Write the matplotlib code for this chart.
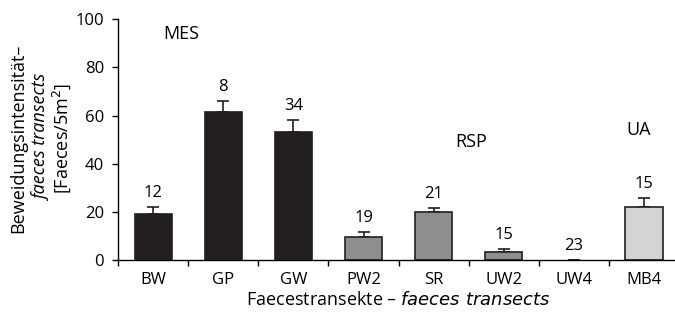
import matplotlib.pyplot as plt

plt.rcParams['font.family'] = 'Open Sans'

# data
categories = ['BW', 'GP', 'GW', 'PW2', 'SR', 'UW2', 'UW4', 'MB4']
means = [19.1, 61.3, 53.3, 9.7, 20.1, 3.5, 0.0, 22.2]
errors = [3.0, 4.7, 4.9, 2.1, 1.5, 1.1, 0.0, 3.6]
n_labels = ['12', '8', '34', '19', '21', '15', '23', '15']
groups = ['MES', 'MES', 'MES', 'RSP', 'RSP', 'RSP', 'RSP', 'UA']
group_names = ['MES', 'RSP', 'UA']
group_text_pos = [(0.4, 94), (4.53, 49), (6.93, 54)]

colors = {'MES': '#231f20', 'RSP': '#8e8e8e', 'UA': '#d4d4d4'}

fig = plt.figure(figsize=(6.75, 3.17), dpi=100)
ax = fig.add_axes([0.175, 0.18, 0.831, 0.759])

x = range(len(categories))
bars = ax.bar(x, means, width=0.53, color=[colors[g] for g in groups],
              edgecolor='#231f20', linewidth=1.2, zorder=2)
for b, m in zip(bars, means):
    if m == 0:
        b.set_visible(False)
ax.errorbar(x, means, yerr=[[0] * len(errors), errors], fmt='none',
            ecolor='#231f20', elinewidth=1.2, capsize=4, capthick=1.2, zorder=1)

for i, lab in enumerate(n_labels):
    ax.text(i, means[i] + errors[i] + 2.5, lab, ha='center', va='bottom', fontsize=12)

for name, (gx, gy) in zip(group_names, group_text_pos):
    ax.text(gx, gy, name, ha='center', va='center', fontsize=13)

ax.set_xlim(-0.5, 7.5)
ax.set_ylim(0, 100)
ax.set_yticks([0, 20, 40, 60, 80, 100])
ax.set_xticks(list(x))
ax.set_xticklabels(categories)
ax.set_xticks([i - 0.5 for i in range(len(categories) + 1)], minor=True)
ax.tick_params(axis='x', which='major', length=0, pad=9, labelsize=12)
ax.tick_params(axis='x', which='minor', length=4, width=1, direction='out')
ax.tick_params(axis='y', length=4, width=1, labelsize=12, pad=6)
for side in ['top', 'right']:
    ax.spines[side].set_visible(False)
ax.spines['left'].set_linewidth(1)
ax.spines['bottom'].set_linewidth(1)

ax.set_xlabel('Faecestransekte – $\\it{faeces\\ transects}$', fontsize=13, labelpad=2)

# three-line y label, middle line in italics
fig.text(18 / 675, 1 - 138 / 317, 'Beweidungsintensität–', rotation=90,
         ha='center', va='center', fontsize=13)
fig.text(42 / 675, 1 - 138 / 317, 'faeces transects', rotation=90,
         ha='center', va='center', fontsize=13, style='italic')
fig.text(62 / 675, 1 - 138 / 317, '[Faeces/5m$^2$]', rotation=90,
         ha='center', va='center', fontsize=13)

plt.savefig('out.png', dpi=100)
